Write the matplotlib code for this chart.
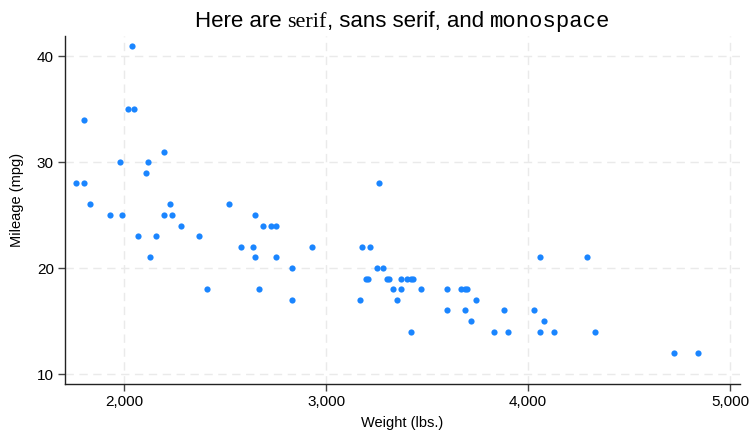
import numpy as np
import matplotlib
matplotlib.use("Agg")
import matplotlib.pyplot as plt
from matplotlib.ticker import FuncFormatter
from matplotlib.offsetbox import TextArea, HPacker, AnchoredOffsetbox

plt.rcParams['font.family'] = ['Liberation Sans', 'DejaVu Sans']

# auto dataset: weight (lbs.) and mileage (mpg)
weight = [2930, 3350, 2640, 3250, 4080, 3670, 2230, 3280, 3880, 3400,
          4330, 3900, 4290, 2110, 3690, 3180, 3220, 2750, 3430, 2120,
          3600, 3600, 3740, 1800, 2650, 4840, 4720, 3830, 2580, 4060,
          3720, 3370, 4130, 2830, 4060, 3310, 3300, 3690, 3370, 2730,
          4030, 3260, 1800, 2200, 2520, 3330, 3700, 3470, 3210, 3200,
          3420, 2690, 2830, 2070, 2650, 2370, 2020, 2280, 2750, 2130,
          2240, 1760, 1980, 3420, 1830, 2050, 2410, 2200, 2670, 2160,
          2040, 1930, 1990, 3170]
mpg = [22, 17, 22, 20, 15, 18, 26, 20, 16, 19,
       14, 14, 21, 29, 16, 22, 22, 24, 19, 30,
       18, 16, 17, 28, 21, 12, 12, 14, 22, 14,
       15, 18, 14, 20, 21, 19, 19, 18, 19, 24,
       16, 28, 34, 25, 26, 18, 18, 18, 19, 19,
       19, 24, 17, 23, 25, 23, 35, 24, 21, 21,
       25, 28, 30, 14, 26, 35, 18, 31, 18, 23,
       41, 25, 25, 17]

xticks = [2000, 3000, 4000, 5000]
yticks = [10, 20, 30, 40]

fig = plt.figure(figsize=(7.52, 4.30), dpi=100)
ax = fig.add_axes([65 / 752, 1 - 384 / 430, (740 - 65) / 752, (384 - 36) / 430])

ax.scatter(weight, mpg, s=20, color='#1a85ff', linewidths=0, zorder=3)

ax.set_xlim(1708, 5049)
ax.set_ylim(9.06, 41.9)
ax.set_xticks(xticks)
ax.set_yticks(yticks)
ax.xaxis.set_major_formatter(FuncFormatter(lambda v, p: f"{int(v):,}"))
ax.grid(True, color='#eaeaea', linestyle=(0, (6, 4)), linewidth=1.0, zorder=0)
for s in ['top', 'right']:
    ax.spines[s].set_visible(False)
for s in ['left', 'bottom']:
    ax.spines[s].set_linewidth(1.0)
    ax.spines[s].set_color('#222222')
ax.tick_params(direction='out', length=5, width=1, color='#444444',
               labelsize=11, pad=3)
ax.set_xlabel('Weight (lbs.)', fontsize=10.5, labelpad=5)
ax.set_ylabel('Mileage (mpg)', fontsize=10.5)
ax.yaxis.set_label_coords(-0.06, 0.53)

# title with mixed font families
parts = [("Here are ", 'Liberation Sans'), ("serif", 'Liberation Serif'),
         (", sans serif, and ", 'Liberation Sans'), ("monospace", 'Liberation Mono')]
boxes = [TextArea(t, textprops=dict(fontsize=16, family=f, color='black'))
         for t, f in parts]
pack = HPacker(children=boxes, align='baseline', pad=0, sep=0)
anchored = AnchoredOffsetbox(loc='lower center', child=pack, pad=0, frameon=False,
                             bbox_to_anchor=(0.5, 1.0), bbox_transform=ax.transAxes,
                             borderpad=0.3)
ax.add_artist(anchored)

fig.savefig('out.png', dpi=100, facecolor='white')
